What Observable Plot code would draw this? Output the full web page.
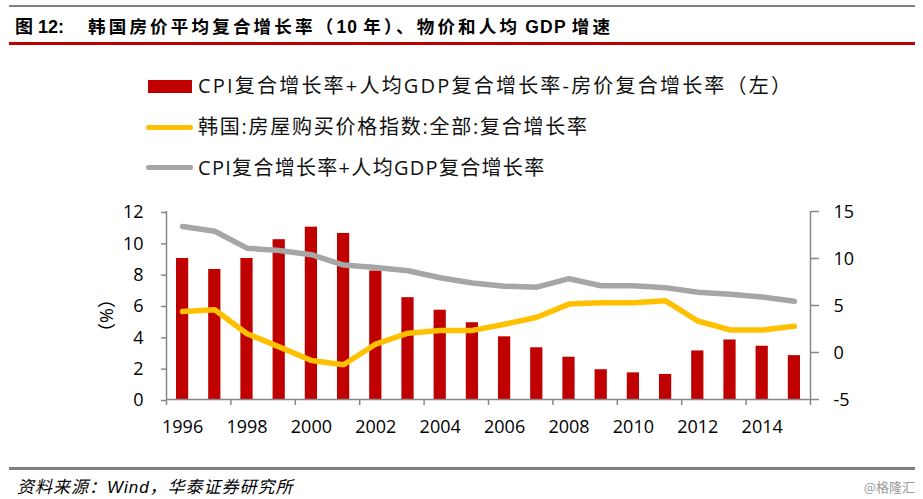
<!DOCTYPE html>
<html>
<head>
<meta charset="utf-8">
<script src="https://cdn.jsdelivr.net/npm/d3@7"></script>
<script src="https://cdn.jsdelivr.net/npm/@observablehq/plot@0.6"></script>
<style>
html,body{margin:0;padding:0;background:#fff;}
#wrap{position:relative;width:923px;height:499px;overflow:hidden;background:#fff;font-family:"Open Sans","Noto Sans CJK SC",sans-serif;color:#000;}
.hr{position:absolute;left:9px;width:906px;}
#fig{position:absolute;left:15px;top:16px;line-height:23px;font-size:18px;font-weight:bold;font-family:"Liberation Sans","Noto Sans CJK SC",sans-serif;white-space:nowrap;}
#ttl{position:absolute;left:88px;top:16px;line-height:23px;font-size:17.5px;font-weight:bold;letter-spacing:3.2px;word-spacing:-3px;font-family:"Liberation Sans","Noto Sans CJK SC",sans-serif;white-space:nowrap;}
#ttl .lat{letter-spacing:1.2px;}
.lg{position:absolute;left:198px;font-size:20px;line-height:24px;white-space:nowrap;color:#111;}
.sw{position:absolute;}
#src{position:absolute;left:17px;top:477px;line-height:22px;font-size:17px;font-style:italic;letter-spacing:1px;font-family:"Liberation Sans","Noto Sans CJK SC",sans-serif;white-space:nowrap;}
#wm{position:absolute;right:8px;top:478px;line-height:18px;font-size:13px;color:#9a9a9a;font-family:"Noto Sans CJK SC",sans-serif;white-space:nowrap;}
#chart{position:absolute;left:0;top:195px;}
</style>
</head>
<body>
<div id="wrap">
  <div class="hr" style="top:5px;height:2px;background:#808080;"></div>
  <div id="fig">图 12:</div>
  <div id="ttl">韩国房价平均复合增长率（<span class="lat">10</span> 年）、物价和人均 <span class="lat">GDP</span> 增速</div>
  <div class="hr" style="top:41.5px;height:3px;background:#C00000;"></div>

  <div class="sw" style="left:148px;top:79.5px;width:44px;height:13.5px;background:#C00000;"></div>
  <div class="lg" id="lg1" style="top:74px;letter-spacing:2.2px;"></div>
  <div class="sw" style="left:146px;top:124.5px;width:47px;height:5px;border-radius:2.5px;background:#FFC000;"></div>
  <div class="lg" id="lg2" style="top:115px;letter-spacing:1.75px;"></div>
  <div class="sw" style="left:146px;top:165px;width:47px;height:5px;border-radius:2.5px;background:#A6A6A6;"></div>
  <div class="lg" id="lg3" style="top:155.5px;letter-spacing:1.3px;"></div>

  <div id="chart"></div>

  <div class="hr" style="top:466.5px;height:3px;background:#808080;"></div>
  <div id="src">资料来源：Wind，华泰证券研究所</div>
  <div id="wm">@格隆汇</div>
</div>
<script>
// ---- data ----
const years = [1996, 1997, 1998, 1999, 2000, 2001, 2002, 2003, 2004, 2005,
               2006, 2007, 2008, 2009, 2010, 2011, 2012, 2013, 2014, 2015];
// CPI复合增长率+人均GDP复合增长率-房价复合增长率（左轴）
const gapValues = [9.0, 8.3, 9.0, 10.2, 11.0, 10.6, 8.2, 6.5, 5.7, 4.9,
                   4.0, 3.3, 2.7, 1.9, 1.7, 1.6, 3.1, 3.8, 3.4, 2.8];
// 韩国:房屋购买价格指数:全部:复合增长率（右轴）
const housePrice = [4.35, 4.55, 2.0, 0.6, -0.85, -1.3, 0.9, 2.05, 2.35, 2.35,
                    3.0, 3.75, 5.15, 5.3, 5.3, 5.5, 3.35, 2.4, 2.4, 2.8];
// CPI复合增长率+人均GDP复合增长率（右轴）
const cpiGdp = [13.4, 12.9, 11.1, 10.85, 10.4, 9.3, 9.05, 8.7, 7.95, 7.4,
                7.05, 6.95, 7.85, 7.1, 7.1, 6.9, 6.4, 6.2, 5.9, 5.45];
const leftTicks = [0, 2, 4, 6, 8, 10, 12];
const rightTicks = [-5, 0, 5, 10, 15];
const xLabelYears = [1996, 1998, 2000, 2002, 2004, 2006, 2008, 2010, 2012, 2014];
const seriesNames = [
  "CPI复合增长率+人均GDP复合增长率-房价复合增长率（左）",
  "韩国:房屋购买价格指数:全部:复合增长率",
  "CPI复合增长率+人均GDP复合增长率"
];
const yLabel = "（%）";

// ---- legend text ----
document.getElementById("lg1").textContent = seriesNames[0];
document.getElementById("lg2").textContent = seriesNames[1];
document.getElementById("lg3").textContent = seriesNames[2];

// ---- scales helpers ----
const lMin = leftTicks[0], lMax = leftTicks[leftTicks.length - 1];
const rMin = rightTicks[0], rMax = rightTicks[rightTicks.length - 1];
const toLeft = v => lMin + (v - rMin) * (lMax - lMin) / (rMax - rMin);

const rows = years.map((year, i) => ({year, gap: gapValues[i], house: housePrice[i], cpi: cpiGdp[i]}));
const xDomain = [years[0] - 0.5, years[years.length - 1] + 0.5];
const boundaries = d3.range(xDomain[0], xDomain[1] + 0.01, 2);
const barHalf = 0.19;
const axisColor = "#878787";

const chart = Plot.plot({
  width: 923,
  height: 249,
  marginTop: 16,
  marginBottom: 45,
  marginLeft: 166,
  marginRight: 113,
  x: {type: "linear", domain: xDomain},
  y: {domain: [lMin, lMax]},
  style: {
    fontFamily: '"Open Sans","Noto Sans CJK SC",sans-serif',
    fontSize: "18px",
    color: "#000",
    background: "transparent",
    overflow: "visible"
  },
  marks: [
    Plot.rectY(rows, {x1: d => d.year - barHalf, x2: d => d.year + barHalf, y: "gap", fill: "#C00000"}),
    Plot.line(rows, {x: "year", y: d => toLeft(d.house), stroke: "#FFC000", strokeWidth: 5.5, strokeLinecap: "round", strokeLinejoin: "round"}),
    Plot.line(rows, {x: "year", y: d => toLeft(d.cpi), stroke: "#A6A6A6", strokeWidth: 5.5, strokeLinecap: "round", strokeLinejoin: "round"}),
    Plot.ruleX(xDomain, {y1: lMin, y2: lMax, stroke: axisColor, strokeWidth: 1.5}),
    Plot.ruleY([lMin], {stroke: axisColor, strokeWidth: 1.5}),
    Plot.axisY({anchor: "left", ticks: leftTicks, tickSize: 5, tickPadding: 18, stroke: axisColor, strokeWidth: 1.5, fill: "#000", dy: 1, label: null}),
    Plot.axisY({anchor: "right", ticks: rightTicks.map(toLeft), tickFormat: () => "", tickSize: 8, stroke: axisColor, strokeWidth: 1.5, label: null}),
    Plot.text(rightTicks, {y: d => toLeft(d), text: d => String(d), frameAnchor: "right", textAnchor: "start", dx: 23, dy: 1, fill: "#000"}),
    Plot.axisX({ticks: boundaries, tickSize: 6, tickFormat: () => "", stroke: axisColor, strokeWidth: 1.5, label: null}),
    Plot.axisX({ticks: xLabelYears, tickSize: 0, tickPadding: 21, tickFormat: d => String(d), fill: "#000", label: null}),
    Plot.text([yLabel], {text: d => d, frameAnchor: "left", textAnchor: "middle", lineAnchor: "middle", dx: -59, dy: 10, rotate: -90, fill: "#000", fontSize: 18})
  ]
});
document.getElementById("chart").appendChild(chart);
</script>
</body>
</html>
